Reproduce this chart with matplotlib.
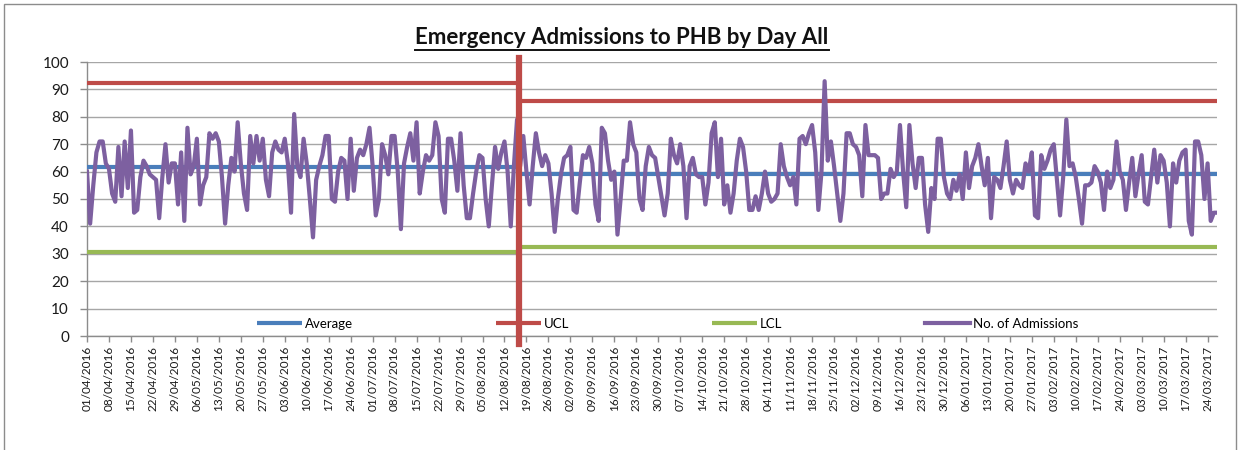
import numpy as np
import matplotlib
matplotlib.use("Agg")
import matplotlib.pyplot as plt
import pandas as pd
from matplotlib.patches import Rectangle
from matplotlib.lines import Line2D

# ---------------- data ----------------
start_date = "2016-04-01"
admissions = [
    60, 41, 55, 67, 71, 71, 63, 61, 52, 49,
    69, 51, 71, 54, 75, 45, 46, 58, 64, 62,
    59, 58, 57, 43, 58, 70, 56, 63, 63, 48,
    67, 42, 76, 59, 62, 72, 48, 55, 58, 74,
    72, 74, 71, 58, 41, 55, 65, 60, 78, 63,
    52, 46, 73, 63, 73, 64, 72, 57, 51, 67,
    71, 68, 67, 72, 63, 45, 81, 62, 58, 72,
    63, 50, 36, 57, 62, 66, 73, 73, 50, 49,
    60, 65, 64, 50, 72, 53, 65, 68, 66, 70,
    76, 62, 44, 50, 70, 66, 59, 73, 73, 60,
    39, 63, 69, 74, 64, 78, 52, 60, 66, 64,
    66, 78, 73, 50, 45, 72, 72, 64, 53, 74,
    55, 43, 43, 52, 60, 66, 65, 50, 40, 55,
    69, 61, 67, 71, 60, 40, 62, 79, 62, 73,
    60, 48, 62, 74, 67, 62, 66, 63, 52, 38,
    50, 59, 65, 66, 69, 46, 45, 56, 66, 65,
    69, 63, 48, 42, 76, 74, 64, 57, 60, 37,
    50, 64, 64, 78, 70, 67, 50, 46, 62, 69,
    66, 65, 58, 51, 44, 52, 72, 66, 63, 70,
    62, 43, 62, 65, 59, 58, 58, 48, 56, 74,
    78, 58, 72, 48, 55, 45, 52, 64, 72, 69,
    60, 46, 46, 51, 46, 52, 60, 52, 49, 50,
    52, 70, 62, 58, 55, 58, 48, 72, 73, 70,
    74, 77, 67, 46, 60, 93, 64, 71, 62, 52,
    42, 52, 74, 74, 70, 69, 66, 51, 77, 66,
    66, 66, 65, 50, 52, 52, 61, 58, 60, 77,
    60, 47, 77, 63, 54, 65, 65, 48, 38, 54,
    50, 72, 72, 58, 52, 50, 57, 53, 59, 50,
    67, 54, 62, 65, 70, 62, 55, 65, 43, 58,
    57, 54, 62, 71, 57, 52, 57, 55, 54, 63,
    60, 67, 44, 43, 66, 61, 64, 68, 70, 57,
    44, 58, 79, 62, 63, 58, 50, 41, 55, 55,
    56, 62, 60, 56, 46, 60, 54, 57, 71, 60,
    57, 46, 56, 65, 51, 59, 66, 49, 48, 58,
    68, 56, 66, 64, 56, 40, 63, 56, 64, 67,
    68, 42, 37, 71, 71, 66, 50, 63, 42, 45,
    45,
]
split_day = 138                      # 17/08/2016: process change
average_before, average_after = 61.5, 59.3
ucl_before, ucl_after = 92.3, 85.6
lcl_before, lcl_after = 30.6, 32.3
tick_every_days = 7
y_ticks = list(range(0, 101, 10))
title_text = "Emergency Admissions to PHB by Day All"
legend_labels = ["Average", "UCL", "LCL", "No. of Admissions"]

# colours
c_avg, c_ucl, c_lcl, c_adm = "#4A7EBB", "#BE4B48", "#98B954", "#7D60A0"

plt.rcParams["font.family"] = ["Lato", "DejaVu Sans"]

dates = pd.date_range(start_date, periods=len(admissions), freq="D")
x = np.arange(len(admissions))
y = np.array(admissions, dtype=float)
before = x < split_day
after = ~before

fig = plt.figure(figsize=(12.44, 4.5), dpi=100)
ax = fig.add_axes([87 / 1244, 1 - 336 / 450, (1217 - 87) / 1244, (336 - 62) / 450])

lw_ctl = 3.0
l_avg, = ax.plot(x[before], np.full(before.sum(), average_before), color=c_avg, lw=lw_ctl, zorder=3, solid_capstyle="butt")
ax.plot(x[after], np.full(after.sum(), average_after), color=c_avg, lw=lw_ctl, zorder=3, solid_capstyle="butt")
l_ucl, = ax.plot(x[before], np.full(before.sum(), ucl_before), color=c_ucl, lw=lw_ctl, zorder=3, solid_capstyle="butt")
ax.plot(x[after], np.full(after.sum(), ucl_after), color=c_ucl, lw=lw_ctl, zorder=3, solid_capstyle="butt")
l_lcl, = ax.plot(x[before], np.full(before.sum(), lcl_before), color=c_lcl, lw=lw_ctl, zorder=3, solid_capstyle="butt")
ax.plot(x[after], np.full(after.sum(), lcl_after), color=c_lcl, lw=lw_ctl, zorder=3, solid_capstyle="butt")
l_adm, = ax.plot(x, y, color=c_adm, lw=3.0, zorder=4, solid_joinstyle="round")

# vertical change marker
ax.axvline(split_day - 0.5, ymin=-0.03, ymax=1.015, color=c_ucl, lw=4.5, zorder=5, clip_on=False)

ax.set_xlim(0, len(admissions) - 1)
ax.set_ylim(0, 100)
ax.set_yticks(y_ticks)
ax.yaxis.grid(True, color="#A6A6A6", lw=1.0, zorder=0)
ax.set_axisbelow(True)

tick_pos = x[::tick_every_days]
ax.set_xticks(tick_pos)
ax.set_xticklabels([dates[i].strftime("%d/%m/%Y") for i in tick_pos], rotation=90, fontsize=8.5)

for s in ["top", "right"]:
    ax.spines[s].set_visible(False)
for s in ["left", "bottom"]:
    ax.spines[s].set_color("#8C8C8C")
    ax.spines[s].set_linewidth(1.0)
ax.tick_params(axis="y", labelsize=11, length=5, width=1, color="#8C8C8C", pad=8, labelcolor="#1a1a1a")
ax.tick_params(axis="x", length=4, width=1, color="#8C8C8C", pad=3, labelcolor="#1a1a1a")

leg = ax.legend([l_avg, l_ucl, l_lcl, l_adm], legend_labels, ncol=4, frameon=False,
                loc="center left", bbox_to_anchor=((257 - 87) / 1130, 0.045),
                fontsize=9.5, handlelength=3.4, handletextpad=0.25, columnspacing=10.8,
                borderpad=0, borderaxespad=0)

# title with underline
t = fig.text(0.5, 1 - 38 / 450, title_text, ha="center", va="center", fontsize=16, fontweight="bold", color="#111111")
fig.canvas.draw()
bb = t.get_window_extent()
fig.add_artist(Line2D([bb.x0 / 1244, bb.x1 / 1244], [(bb.y0 - 1) / 450, (bb.y0 - 1) / 450],
                      transform=fig.transFigure, color="#111111", lw=1.4))

# chart border
fig.add_artist(Rectangle((4 / 1244, -0.05), (1236 - 4) / 1244, 1.05 - 4 / 450, transform=fig.transFigure,
                         fill=False, edgecolor="#8C8C8C", lw=1.0))

fig.savefig("out.png", dpi=100)
